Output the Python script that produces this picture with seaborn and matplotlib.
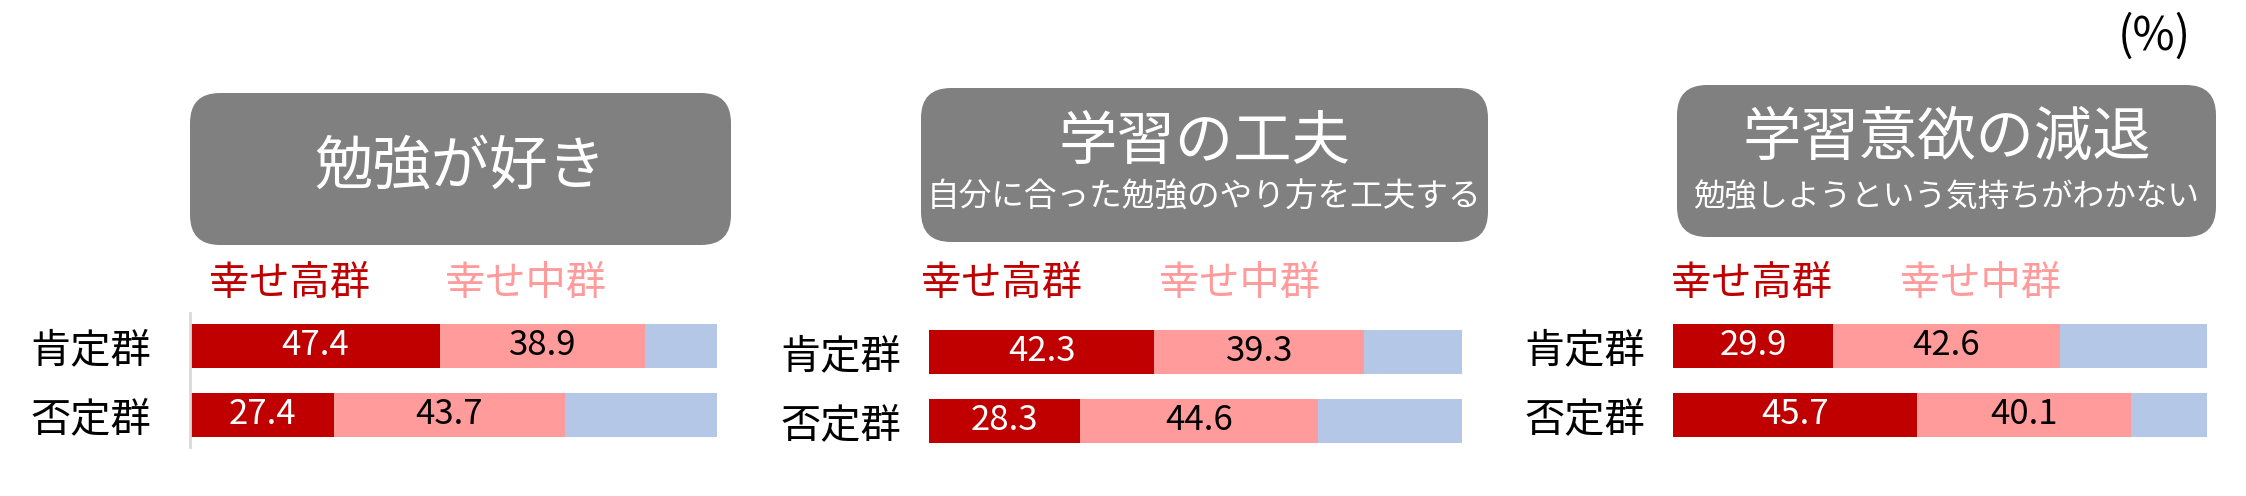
import matplotlib
matplotlib.use("Agg")
import matplotlib.pyplot as plt
from matplotlib.patches import FancyBboxPatch
import seaborn as sns
import pandas as pd

# データ（%）
categories = ['肯定群', '否定群']
panel_titles = ['勉強が好き', '学習の工夫', '学習意欲の減退']
panel_subtitles = ['', '自分に合った勉強のやり方を工夫する', '勉強しようという気持ちがわかない']
legend_labels = ['幸せ高群', '幸せ中群']
high_vals = [[47.4, 27.4], [42.3, 28.3], [29.9, 45.7]]
mid_vals = [[38.9, 43.7], [39.3, 44.6], [42.6, 40.1]]
total = 100

RED = '#C00000'
PINK = '#FF9B9B'
BLUE = '#B4C7E7'
GREY_BOX = '#808080'

sns.set_theme(style='white')
plt.rcParams['font.family'] = ['Noto Sans CJK JP', 'DejaVu Sans']

W, H = 2246, 496
fig = plt.figure(figsize=(W / 100, H / 100), dpi=100)

# 背景用（ピクセル座標）
bg = fig.add_axes([0, 0, 1, 1])
bg.set_xlim(0, W)
bg.set_ylim(H, 0)
bg.axis('off')

# レイアウト（ピクセル）
bar_x = [(190, 717), (929, 1462), (1673, 2207)]
bar_y = [(313, 447), (319, 453), (313, 447)]
box_x = [(190, 731), (921, 1488), (1677, 2216)]
box_y = [(93, 245), (88, 242), (85, 237)]
title_y = [167, 142, 138]
sub_y = [0, 198, 198]
sub_size = [0, 23.5, 22.8]
legend_x = [(209, 445), (921, 1159), (1671, 1900)]
tick_pad = [28, 20, 20]

for i in range(3):
    # タイトルボックス
    x0, x1 = box_x[i]
    y0, y1 = box_y[i]
    bg.add_patch(FancyBboxPatch((x0, y0), x1 - x0, y1 - y0,
                                boxstyle='round,pad=0,rounding_size=30',
                                facecolor=GREY_BOX, edgecolor='none'))
    cx = (x0 + x1) / 2
    bg.text(cx, title_y[i], panel_titles[i], color='white', fontsize=42,
            ha='center', va='center')
    if panel_subtitles[i]:
        bg.text(cx, sub_y[i], panel_subtitles[i], color='white',
                fontsize=sub_size[i], ha='center', va='center')

    # 凡例テキスト
    bg.text(legend_x[i][0], 283, legend_labels[0], color=RED, fontsize=29,
            ha='left', va='center')
    bg.text(legend_x[i][1], 283, legend_labels[1], color=PINK, fontsize=29,
            ha='left', va='center')

    # 積み上げ横棒
    df = pd.DataFrame({'group': categories,
                       'high': high_vals[i],
                       'mid': mid_vals[i]})
    df['hm'] = df['high'] + df['mid']
    df['total'] = total

    bx0, bx1 = bar_x[i]
    by0, by1 = bar_y[i]
    ax = fig.add_axes([bx0 / W, 1 - by1 / H, (bx1 - bx0) / W, (by1 - by0) / H])
    for col, c in [('total', BLUE), ('hm', PINK), ('high', RED)]:
        sns.barplot(data=df, x=col, y='group', orient='h', color=c,
                    saturation=1, width=0.64, linewidth=0, ax=ax)

    for j, row in df.iterrows():
        ax.text(row['high'] / 2, j, f"{row['high']:.1f}", color='white',
                fontsize=25, ha='center', va='center')
        ax.text(row['high'] + row['mid'] / 2, j, f"{row['mid']:.1f}",
                color='black', fontsize=25, ha='center', va='center')

    ax.set_xlim(0, total)
    ax.set_ylim(1.464, -0.478)
    ax.set_xlabel('')
    ax.set_ylabel('')
    ax.set_xticks([])
    ax.tick_params(axis='y', length=0, pad=tick_pad[i], labelsize=29,
                   labelcolor='black')
    sns.despine(ax=ax, top=True, right=True, bottom=True, left=(i != 0))
    if i == 0:
        ax.spines['left'].set_color('#D9D9D9')
        ax.spines['left'].set_linewidth(2)
    ax.set_facecolor('none')

bg.text(2191, 37, '(%)', color='black', fontsize=33, ha='right', va='center')

fig.savefig('out.png', dpi=100)
